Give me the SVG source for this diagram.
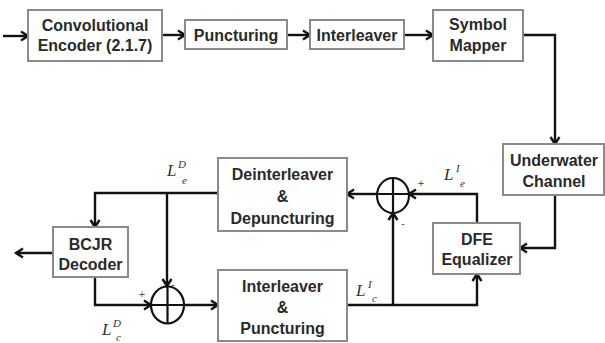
<svg xmlns="http://www.w3.org/2000/svg" width="605" height="343" viewBox="0 0 605 343">
<defs>
<marker id="arr" markerUnits="userSpaceOnUse" markerWidth="12" markerHeight="12" refX="9" refY="6" orient="auto">
<path d="M2,1.5 L9,6 L2,10.5" fill="none" stroke="#111" stroke-width="2.4" stroke-linejoin="miter"/>
</marker>
</defs>
<style>
.box{fill:#fff;stroke:#8a8a8a;stroke-width:2}
.t{font-family:"Liberation Sans",Arial,sans-serif;font-weight:bold;font-size:16px;fill:#2a2a2a;text-anchor:middle}
.ln{fill:none;stroke:#111;stroke-width:2.4}
.sum{fill:none;stroke:#111;stroke-width:2.2}
.m{font-family:"Liberation Serif","Times New Roman",serif;font-style:italic;fill:#333}
.L{font-size:17px}
.s{font-size:11px}
.pm{font-family:"Liberation Sans",Arial,sans-serif;font-size:11px;fill:#555;text-anchor:middle}
</style>
<rect width="605" height="343" fill="#fff"/>
<g id="connectors">
<path class="ln" d="M3,36 H28" marker-end="url(#arr)"/>
<path class="ln" d="M162,35 H185" marker-end="url(#arr)"/>
<path class="ln" d="M287,35 H310" marker-end="url(#arr)"/>
<path class="ln" d="M404,35 H433" marker-end="url(#arr)"/>
<path class="ln" d="M523,35 H555 V144" marker-end="url(#arr)"/>
<path class="ln" d="M555,195 V248 H520" marker-end="url(#arr)"/>
<path class="ln" d="M477,223 V194 H409" marker-end="url(#arr)"/>
<path class="ln" d="M377,194 H347" marker-end="url(#arr)"/>
<path class="ln" d="M347,305 H477 V274" marker-end="url(#arr)"/>
<path class="ln" d="M393,305 V213" marker-end="url(#arr)"/>
<path class="ln" d="M218,193 H95 V227" marker-end="url(#arr)"/>
<path class="ln" d="M167,193 V286" marker-end="url(#arr)"/>
<path class="ln" d="M95,277 V305 H151" marker-end="url(#arr)"/>
<path class="ln" d="M184,305 H218" marker-end="url(#arr)"/>
<path class="ln" d="M53,253 H16" marker-end="url(#arr)"/>
</g>
<g id="sum1">
<ellipse class="sum" cx="167.5" cy="305" rx="16.5" ry="18.5"/>
<path class="sum" d="M151,305 H184 M167.5,286.5 V323.5"/>
<text class="pm" x="142" y="298">+</text>
<text class="pm" x="173" y="288">-</text>
</g>
<g id="sum2">
<ellipse class="sum" cx="393" cy="195.5" rx="16" ry="17.5"/>
<path class="sum" d="M377,194 H409 M393,178 V213"/>
<text class="pm" x="421" y="187">+</text>
<text class="pm" x="403" y="227">-</text>
</g>
<g id="conv"><rect class="box" x="28" y="10" width="134" height="51"/>
<text class="t" x="95" y="31">Convolutional</text><text class="t" x="95" y="51">Encoder (2.1.7)</text></g>
<g id="punct"><rect class="box" x="185" y="20" width="102" height="29"/>
<text class="t" x="236" y="41">Puncturing</text></g>
<g id="inter"><rect class="box" x="310" y="20" width="94" height="29"/>
<text class="t" x="357" y="41">Interleaver</text></g>
<g id="mapper"><rect class="box" x="433" y="10" width="90" height="51"/>
<text class="t" x="478" y="30">Symbol</text><text class="t" x="478" y="51">Mapper</text></g>
<g id="channel"><rect class="box" x="503" y="144" width="101" height="51"/>
<text class="t" x="554" y="166">Underwater</text><text class="t" x="554" y="187">Channel</text></g>
<g id="dfe"><rect class="box" x="433" y="223" width="87" height="51"/>
<text class="t" x="477" y="245">DFE</text><text class="t" x="477" y="265">Equalizer</text></g>
<g id="deint"><rect class="box" x="218" y="158" width="129" height="73"/>
<text class="t" x="282.5" y="180">Deinterleaver</text><text class="t" x="282.5" y="202">&amp;</text><text class="t" x="282.5" y="224">Depuncturing</text></g>
<g id="intpunct"><rect class="box" x="218" y="270" width="129" height="71"/>
<text class="t" x="282.5" y="292">Interleaver</text><text class="t" x="282.5" y="313">&amp;</text><text class="t" x="282.5" y="334">Puncturing</text></g>
<g id="bcjr"><rect class="box" x="53" y="227" width="75" height="50"/>
<text class="t" x="90.5" y="250">BCJR</text><text class="t" x="90.5" y="270">Decoder</text></g>
<g id="labels">
<text class="m L" x="167" y="176">L</text><text class="m s" x="178" y="168">D</text><text class="m s" x="182" y="184">e</text>
<text class="m L" x="102" y="335">L</text><text class="m s" x="113" y="327">D</text><text class="m s" x="116" y="341">c</text>
<text class="m L" x="444" y="180">L</text><text class="m s" x="456" y="172">I</text><text class="m s" x="460" y="187">e</text>
<text class="m L" x="356" y="296">L</text><text class="m s" x="368" y="288">I</text><text class="m s" x="372" y="302">c</text>
</g>
</svg>
